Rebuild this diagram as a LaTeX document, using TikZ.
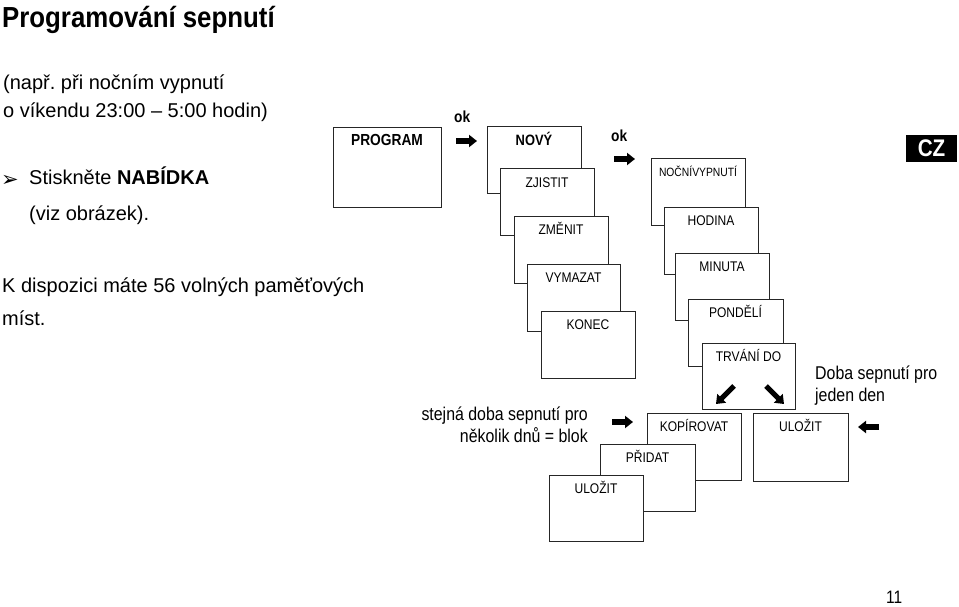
\documentclass[tikz,border=0pt]{standalone}
\usepackage{fontspec}
\setmainfont{Liberation Sans}[FakeStretch=0.86]
\newfontfamily\bodyfont{Liberation Sans}
\newfontfamily\titlefont{Liberation Sans}[FakeStretch=0.89]
\newfontfamily\dingfont{DejaVu Sans}
\usetikzlibrary{arrows.meta}
\frenchspacing
\tikzset{
	box/.style={draw=black!85, fill=white, line width=0.9pt, minimum width=94pt, minimum height=67pt, inner sep=0pt},
	lbl/.style={anchor=base, yshift=-19pt, inner sep=0pt, font=\fontsize{14}{16}\selectfont},
	blk/.style={line width=6pt, -{Triangle[length=8pt,width=12pt]}},
	txt/.style={anchor=base west, inner sep=0pt, font=\bodyfont\fontsize{20}{24}\selectfont},
	rtxt/.style={anchor=base east, inner sep=0pt, font=\fontsize{18.5}{22}\selectfont},
	ok/.style={anchor=base west, inner sep=0pt, font=\bfseries\fontsize{16}{18}\selectfont}
}
\begin{document}
\begin{tikzpicture}[x=1pt,y=-1pt]
		\useasboundingbox (0,0) rectangle (959,607);

		\node[anchor=base west, inner sep=0pt, font=\titlefont\bfseries\fontsize{29}{34}\selectfont] (title) at (2,28) {Programování sepnutí};

		\node[txt] (t1) at (3,90) {(např. při nočním vypnutí};
		\node[txt] (t2) at (3,118) {o víkendu 23:00 – 5:00 hodin)};
		\node[txt, font=\dingfont\fontsize{21}{24}\selectfont] (bullet) at (1,186) {➢};
		\node[txt] (t3) at (29,185) {Stiskněte \textbf{NABÍDKA}};
		\node[txt] (t4) at (29,220) {(viz obrázek).};
		\node[txt] (t5) at (2,292) {K dispozici máte 56 volných paměťových};
		\node[txt] (t6) at (2,325) {míst.};

		\node[anchor=center, fill=black, text=white, font=\bfseries\fontsize{24}{26}\selectfont, minimum width=51pt, minimum height=27pt, inner sep=0pt] (cz) at (931.5,148.5) {CZ};

		% menu
		\node[box, minimum width=108pt, minimum height=80pt, label={[lbl, font=\bfseries\fontsize{16}{18}\selectfont]north:PROGRAM}] (program) at (387,167) {};
		\node[ok] (ok1) at (454,123) {ok};
		\coordinate (a1s) at (456,141);
		\coordinate (a1e) at (477,141);
		\draw[blk] (a1s) -- (a1e);

		\node[box, label={[lbl, font=\bfseries\fontsize{15}{17}\selectfont]north:NOVÝ}] (novy) at (534,160) {};
		\node[box, label={[lbl]north:ZJISTIT}] (zjistit) at (547,202) {};
		\node[box, label={[lbl]north:ZMĚNIT}] (zmenit) at (561,249.5) {};
		\node[box, minimum width=93pt, label={[lbl]north:VYMAZAT}] (vymazat) at (573.5,297.5) {};
		\node[box, label={[lbl]north:KONEC}] (konec) at (588,344.5) {};

		\node[ok] (ok2) at (611,142) {ok};
		\coordinate (a2s) at (614,159);
		\coordinate (a2e) at (635,159);
		\draw[blk] (a2s) -- (a2e);

		% time
		\node[box, label={[lbl, font=\fontsize{12}{14}\selectfont]north:NOČNÍVYPNUTÍ}] (nocni) at (698,191.5) {};
		\node[box, label={[lbl]north:HODINA}] (hodina) at (711,240.5) {};
		\node[box, label={[lbl]north:MINUTA}] (minuta) at (722,286.5) {};
		\node[box, minimum width=95pt, label={[lbl]north:PONDĚLÍ}] (pondeli) at (735.5,332.5) {};
		\node[box, minimum width=93pt, minimum height=66pt, label={[lbl]north:TRVÁNÍ DO}] (trvani) at (748.5,376) {};
		\coordinate (d1s) at (734,386);
		\coordinate (d1e) at (716,404);
		\coordinate (d2s) at (766,386);
		\coordinate (d2e) at (784,404);
		\draw[blk, line width=5pt] (d1s) -- (d1e);
		\draw[blk, line width=5pt] (d2s) -- (d2e);

		\node[anchor=base west, inner sep=0pt, font=\fontsize{18.5}{22}\selectfont] (den1) at (815,379) {Doba sepnutí pro};
		\node[anchor=base west, inner sep=0pt, font=\fontsize{18.5}{22}\selectfont] (den2) at (815,401) {jeden den};

		\node[box, minimum width=95pt, minimum height=68pt, label={[lbl]north:ULOŽIT}] (ulozit1) at (800.5,447) {};
		\coordinate (a3s) at (879,427);
		\coordinate (a3e) at (858,427);
		\draw[blk] (a3s) -- (a3e);

		% blok
		\node[rtxt] (blok1) at (588,420) {stejná doba sepnutí pro};
		\node[rtxt] (blok2) at (588,442) {několik dnů = blok};
		\coordinate (a4s) at (612,422);
		\coordinate (a4e) at (633,422);
		\draw[blk] (a4s) -- (a4e);

		\node[box, label={[lbl]north:KOPÍROVAT}] (kopirovat) at (694,446.5) {};
		\node[box, minimum width=95pt, label={[lbl]north:PŘIDAT}] (pridat) at (647.5,477.5) {};
		\node[box, minimum height=66pt, label={[lbl]north:ULOŽIT}] (ulozit2) at (596,508) {};

		\node[anchor=base west, inner sep=0pt, font=\fontsize{18}{21}\selectfont] (page) at (886,603) {11};
	\end{tikzpicture}
\end{document}
